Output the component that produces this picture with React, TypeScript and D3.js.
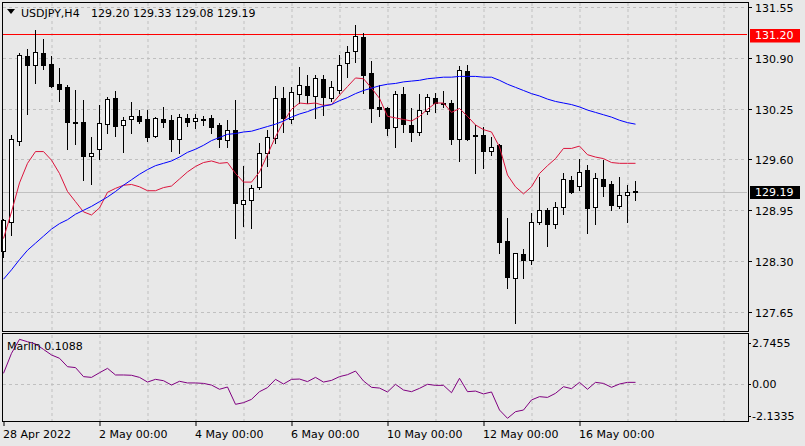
import * as React from "react";
import * as d3 from "d3";

// USDJPY H4 bars, 28 Apr 2022 00:00 .. 17 May 2022 (80 bars)
const opens = [128.43, 128.8, 129.84, 130.92, 130.81, 130.96, 130.82, 130.56, 130.53, 130.08,
  130.08, 129.64, 129.73, 130.05, 130.38, 130.04, 130.11, 130.16, 130.12, 129.9,
  130.12, 130.1, 129.86, 130.13, 130.09, 130.11, 130.13, 130.04, 129.85, 129.98,
  129.03, 129.08, 129.25, 129.68, 129.87, 130.38, 130.12, 130.44, 130.54, 130.41,
  130.63, 130.39, 130.48, 130.83, 130.98, 131.16, 130.7, 130.27, 130.26, 130.02,
  130.44, 130.04, 129.95, 130.22, 130.39, 130.32, 130.32, 129.86, 130.73, 129.91,
  129.91, 129.71, 129.78, 128.56, 128.09, 128.39, 128.31, 128.8, 128.95, 128.77,
  128.99, 129.34, 129.26, 129.47, 128.99, 129.35, 129.29, 129.01, 129.15, 129.2];
const highs = [128.84, 129.91, 130.96, 131.01, 131.25, 131.14, 130.92, 130.77, 130.55, 130.48,
  130.36, 129.89, 130.3, 130.4, 130.47, 130.14, 130.33, 130.23, 130.23, 130.14,
  130.27, 130.17, 130.18, 130.18, 130.18, 130.15, 130.17, 130.06, 130.1, 130.36,
  129.52, 129.27, 129.81, 129.98, 130.54, 130.52, 130.52, 130.78, 130.68, 130.68,
  130.68, 130.6, 130.93, 131.05, 131.32, 131.21, 130.86, 130.55, 130.27, 130.47,
  130.53, 130.26, 130.44, 130.44, 130.45, 130.47, 130.36, 130.79, 130.81, 130.04,
  130.02, 129.88, 129.8, 128.85, 128.41, 128.46, 128.91, 129.37, 128.98, 129.06,
  129.42, 129.39, 129.61, 129.53, 129.43, 129.59, 129.32, 129.37, 129.27, 129.33];
const lows = [128.35, 128.63, 129.79, 130.18, 130.58, 130.75, 130.52, 130.34, 129.73, 129.8,
  129.34, 129.29, 129.61, 129.94, 129.9, 129.69, 129.94, 130.06, 129.84, 129.88,
  130.02, 129.71, 129.68, 130.03, 130.0, 130.04, 129.94, 129.76, 129.76, 128.6,
  128.75, 128.73, 129.22, 129.51, 129.81, 129.95, 130.06, 130.32, 130.32, 130.13,
  130.17, 130.34, 130.45, 130.65, 130.85, 130.45, 130.08, 130.15, 129.91, 129.76,
  129.95, 129.84, 129.91, 130.18, 130.2, 130.27, 129.8, 129.58, 129.85, 129.42,
  129.49, 129.65, 128.4, 127.96, 127.51, 128.08, 128.26, 128.78, 128.49, 128.72,
  128.9, 129.17, 129.21, 128.66, 128.77, 129.13, 128.95, 128.98, 128.8, 129.08];
const closes = [128.83, 129.86, 130.93, 130.81, 130.97, 130.8, 130.54, 130.5, 130.08, 130.06,
  129.64, 129.68, 130.06, 130.37, 130.03, 130.1, 130.15, 130.09, 129.89, 130.13,
  130.08, 129.86, 130.14, 130.08, 130.13, 130.11, 130.02, 129.86, 129.98, 129.04,
  129.08, 129.23, 129.68, 129.88, 130.39, 130.13, 130.46, 130.55, 130.42, 130.64,
  130.4, 130.52, 130.81, 130.97, 131.18, 130.68, 130.26, 130.24, 130.0, 130.44,
  130.05, 129.95, 130.23, 130.4, 130.32, 130.31, 129.86, 130.74, 129.86, 129.9,
  129.71, 129.76, 128.54, 128.1, 128.4, 128.31, 128.8, 128.95, 128.78, 128.99,
  129.35, 129.18, 129.44, 128.98, 129.36, 129.26, 129.02, 129.15, 129.18, 129.19];

// moving averages
const maFast = [128.59, 128.93, 129.3, 129.55, 129.7, 129.7, 129.59, 129.42, 129.19, 129.06,
  128.93, 128.89, 128.98, 129.18, 129.23, 129.27, 129.28, 129.25, 129.2, 129.2,
  129.24, 129.26, 129.35, 129.44, 129.51, 129.56, 129.58, 129.55, 129.56, 129.42,
  129.31, 129.31, 129.44, 129.66, 129.89, 130.08, 130.24, 130.32, 130.31, 130.32,
  130.29, 130.3, 130.42, 130.53, 130.64, 130.63, 130.51, 130.38, 130.15, 130.13,
  130.11, 130.09, 130.15, 130.24, 130.32, 130.32, 130.2, 130.25, 130.15, 130.04,
  129.98, 129.95, 129.76, 129.4, 129.25, 129.16, 129.25, 129.42, 129.52, 129.61,
  129.74, 129.74, 129.77, 129.66, 129.63, 129.61, 129.56, 129.55, 129.55, 129.55];
const maSlow = [128.07, 128.19, 128.32, 128.44, 128.53, 128.62, 128.71, 128.78, 128.83, 128.9,
  128.95, 129.0, 129.06, 129.12, 129.19, 129.27, 129.34, 129.41, 129.47, 129.52,
  129.55, 129.58, 129.63, 129.69, 129.73, 129.78, 129.84, 129.88, 129.92, 129.93,
  129.95, 129.96, 129.99, 130.02, 130.05, 130.09, 130.14, 130.18, 130.21, 130.25,
  130.28, 130.3, 130.35, 130.39, 130.44, 130.48, 130.51, 130.54, 130.56, 130.57,
  130.59, 130.6, 130.61, 130.63, 130.64, 130.65, 130.65, 130.66, 130.66, 130.66,
  130.65, 130.65, 130.61, 130.56, 130.52, 130.48, 130.44, 130.41, 130.37, 130.34,
  130.32, 130.3, 130.27, 130.23, 130.2, 130.17, 130.14, 130.1, 130.07, 130.05];

// Marlin sub-window
const marlin = [0.71, 2.04, 2.97, 2.81, 2.66, 2.3, 1.93, 1.71, 1.15, 1.09,
  0.49, 0.44, 0.75, 1.04, 0.6, 0.6, 0.58, 0.44, 0.13, 0.31,
  0.22, -0.07, 0.18, 0.07, 0.07, 0.04, -0.07, -0.35, -0.2, -1.35,
  -1.24, -1.02, -0.51, -0.24, 0.31, 0.0, 0.31, 0.33, 0.16, 0.44,
  0.13, 0.24, 0.49, 0.62, 0.86, 0.2, -0.22, -0.27, -0.53, -0.02,
  -0.4, -0.51, -0.29, -0.02, -0.09, -0.09, -0.58, 0.38, -0.51, -0.47,
  -0.66, -0.53, -1.73, -2.28, -1.84, -1.73, -1.06, -0.84, -0.89, -0.62,
  -0.18, -0.31, 0.11, -0.35, 0.11, 0.04, -0.22, 0.0, 0.11, 0.11];
const marlinLabel = "Marlin 0.1088";

const priceTicks = ["131.55", "130.90", "130.25", "129.60", "128.95", "128.30", "127.65"];
const marlinTicks = ["2.7455", "0.00", "-2.1335"];
const timeLabels = ["28 Apr 2022", "2 May 00:00", "4 May 00:00", "6 May 00:00", "10 May 00:00", "12 May 00:00", "16 May 00:00"];
const timeLabelBars = [0, 12, 24, 36, 48, 60, 72];
const resistance = 131.2;
const lastPrice = 129.19;

const W = 805, H = 446;
const FONT = "DejaVu Sans";

export default function App() {
  const x = d3.scaleLinear().domain([0, 93]).range([3.5, 747.5]);
  const y = d3.scaleLinear().domain([127.65, 131.55]).range([312.1, 6.7]);
  const ym = d3.scaleLinear().domain([-2.1335, 2.7455]).range([416.1, 342.7]);
  const px = (v: number) => Math.round(v) + 0.5;

  const gridBars = d3.range(6, 94, 6);
  const linePrice = d3.line<number>().x((_, i) => x(i)).y(d => y(d));
  const lineMarlin = d3.line<number>().x((_, i) => x(i)).y(d => ym(d));

  return (
    <svg width={W} height={H} style={{ position: "absolute", left: 0, top: 0, background: "#e8e8e8" }}
      fontFamily={FONT} fontSize={11}>
      <rect x={0} y={0} width={W} height={H} fill="#e8e8e8" />
      {/* grid */}
      <g stroke="#c0c0c0" strokeDasharray="3,3" strokeWidth={1}>
        {gridBars.map(b => (
          <line key={"v" + b} x1={px(x(b)) - 0.5} x2={px(x(b)) - 0.5} y1={3} y2={331} />
        ))}
        {gridBars.map(b => (
          <line key={"vm" + b} x1={px(x(b)) - 0.5} x2={px(x(b)) - 0.5} y1={335} y2={421} />
        ))}
        {priceTicks.map(t => (
          <line key={t} x1={3} x2={747} y1={px(y(+t))} y2={px(y(+t))} />
        ))}
        <line x1={3} x2={747} y1={px(ym(0))} y2={px(ym(0))} />
      </g>
      {/* last price line */}
      <line x1={3} x2={747} y1={px(y(lastPrice))} y2={px(y(lastPrice))} stroke="#c0c0c0" />
      {/* horizontal level */}
      <line x1={3} x2={747} y1={px(y(resistance))} y2={px(y(resistance))} stroke="#ff0000" />

      {/* candles */}
      <g shapeRendering="crispEdges">
        {closes.map((c, i) => {
          const o = opens[i];
          const cx = x(i);
          const top = Math.round(y(Math.max(o, c)));
          const bot = Math.round(y(Math.min(o, c)));
          const up = c >= o;
          return (
            <g key={i}>
              <line x1={cx} x2={cx} y1={Math.round(y(highs[i]))} y2={Math.round(y(lows[i])) + 1} stroke="#000" />
              <rect x={cx - 2} y={top + 0.5} width={4} height={Math.max(bot - top, 1)}
                fill={up ? "#fff" : "#000"} stroke="#000" />
            </g>
          );
        })}
      </g>

      {/* moving averages */}
      <path d={linePrice(maFast) || ""} fill="none" stroke="#dc143c" strokeWidth={1} />
      <path d={linePrice(maSlow) || ""} fill="none" stroke="#0000ff" strokeWidth={1} />

      {/* marlin */}
      <path d={lineMarlin(marlin) || ""} fill="none" stroke="#800080" strokeWidth={1} />

      {/* frames */}
      <g fill="none" stroke="#000" shapeRendering="crispEdges">
        <rect x={2.5} y={2.5} width={745.5} height={329} />
        <rect x={2.5} y={333.5} width={745.5} height={88} />
      </g>

      {/* header */}
      <path d="M7,9 L15,9 L11,14 Z" fill="#000" />
      <text x={21} y={17} fill="#000">USDJPY,H4</text>
      <text x={91} y={17} fill="#000">{[opens[79], highs[79], lows[79], closes[79]].map(v => v.toFixed(2)).join(" ")}</text>
      <text x={7} y={349.5} fill="#000">{marlinLabel}</text>

      {/* right price axis */}
      <g>
        {priceTicks.map(t => (
          <g key={t}>
            <line x1={748} x2={752} y1={px(y(+t))} y2={px(y(+t))} stroke="#000" />
            <text x={755} y={Math.round(y(+t)) + 4.5} fill="#000">{t}</text>
          </g>
        ))}
        <rect x={750} y={29} width={50} height={13.5} fill="#ff0000" />
        <text x={755} y={y(resistance) + 5} fill="#fff">{resistance.toFixed(2)}</text>
        <rect x={750} y={186} width={50} height={13} fill="#000" />
        <text x={755} y={y(lastPrice) + 4.5} fill="#fff">{lastPrice.toFixed(2)}</text>
        {marlinTicks.map(t => (
          <g key={t}>
            <line x1={748} x2={751} y1={px(ym(+t))} y2={px(ym(+t))} stroke="#000" />
            <text x={752} y={Math.round(ym(+t)) + 4} fill="#000">{t}</text>
          </g>
        ))}
      </g>

      {/* time axis */}
      {timeLabels.map((t, k) => (
        <g key={t}>
          <line x1={px(x(timeLabelBars[k])) - 0.5} x2={px(x(timeLabelBars[k])) - 0.5} y1={422} y2={426} stroke="#000" />
          <text x={x(timeLabelBars[k]) - 0.5} y={437.5} fill="#000">{t}</text>
        </g>
      ))}
    </svg>
  );
}
